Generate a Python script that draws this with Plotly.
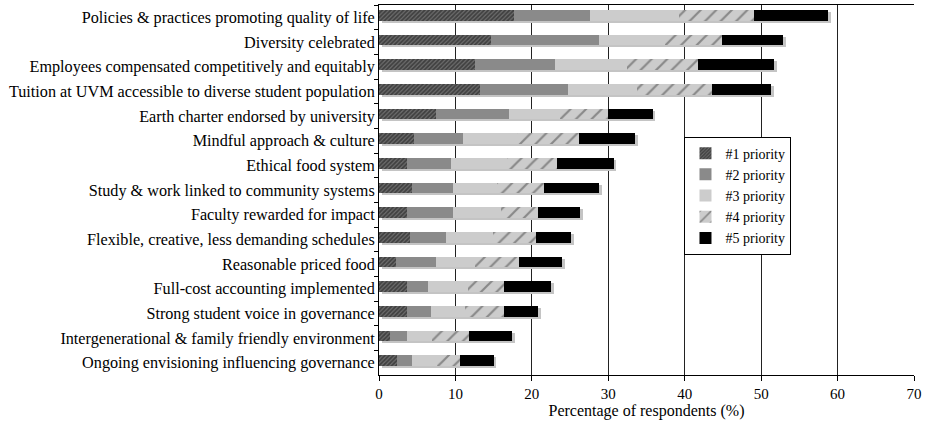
import plotly.graph_objects as go

categories = [
    "Policies & practices promoting quality of life",
    "Diversity celebrated",
    "Employees compensated competitively and equitably",
    "Tuition at UVM accessible to diverse student population",
    "Earth charter endorsed by university",
    "Mindful approach & culture",
    "Ethical food system",
    "Study & work linked to community systems",
    "Faculty rewarded for impact",
    "Flexible, creative, less demanding schedules",
    "Reasonable priced food",
    "Full-cost accounting implemented",
    "Strong student voice in governance",
    "Intergenerational & family friendly environment",
    "Ongoing envisioning influencing governance",
]

p1 = [17.7, 14.7, 12.6, 13.2, 7.5, 4.6, 3.6, 4.3, 3.7, 4.0, 2.2, 3.7, 3.7, 1.5, 2.3]
p2 = [9.9, 14.1, 10.4, 11.5, 9.5, 6.4, 5.8, 5.4, 6.0, 4.8, 5.3, 2.7, 3.1, 2.2, 2.0]
p3 = [11.7, 8.6, 9.4, 9.1, 6.7, 7.1, 7.3, 5.7, 6.3, 6.1, 5.0, 5.2, 4.5, 3.2, 3.3]
p4 = [9.8, 7.5, 9.3, 9.8, 6.3, 8.1, 6.6, 6.2, 4.8, 5.7, 5.8, 4.7, 5.1, 4.9, 3.0]
p5 = [9.7, 8.0, 10.0, 7.7, 5.8, 7.3, 7.4, 7.2, 5.5, 4.5, 5.7, 6.2, 4.4, 5.6, 4.4]
series_names = ["#1 priority", "#2 priority", "#3 priority", "#4 priority", "#5 priority"]
x_ticks = [0, 10, 20, 30, 40, 50, 60, 70]

totals = [a + b + c + d + e for a, b, c, d, e in zip(p1, p2, p3, p4, p5)]

FONT = "Liberation Serif"
fig = go.Figure()

# drop shadow (on base axis, drawn beneath)
fig.add_trace(go.Bar(
    y=categories, x=totals, base=0.35, orientation="h",
    marker=dict(color="#c4c4c4", line=dict(width=0)),
    showlegend=False, hoverinfo="skip", xaxis="x", yaxis="y",
))

styles = [
    dict(color="#555555", pattern=dict(shape="/", fgcolor="#111111", bgcolor="#6e6e6e", size=3, solidity=0.6)),
    dict(color="#8a8a8a"),
    dict(color="#cccccc"),
    dict(color="#cccccc", pattern=dict(shape="/", fgcolor="#444444", bgcolor="#cccccc", size=11, solidity=0.2)),
    dict(color="#000000"),
]
for name, vals, st in zip(series_names, [p1, p2, p3, p4, p5], styles):
    m = dict(st)
    m["line"] = dict(width=0)
    fig.add_trace(go.Bar(
        y=categories, x=vals, name=name, orientation="h",
        marker=m, xaxis="x", yaxis="y2",
    ))

shift = 0.08
fig.update_layout(
    width=926, height=421,
    margin=dict(l=379, r=12, t=5, b=46),
    paper_bgcolor="white", plot_bgcolor="white",
    barmode="stack", bargap=0.57,
    font=dict(family=FONT, size=15, color="black"),
    xaxis=dict(
        range=[0, 70], tickvals=x_ticks, showgrid=True, gridcolor="#222222", gridwidth=1,
        showline=True, linecolor="black", linewidth=1, mirror=True,
        ticks="outside", ticklen=5, tickcolor="black", zeroline=False,
        title=dict(text="Percentage of respondents (%)",
                   font=dict(family=FONT, size=16, color="black"), standoff=0),
        tickfont=dict(family=FONT, size=15, color="black"), automargin=False,
    ),
    yaxis=dict(
        categoryorder="array", categoryarray=categories,
        range=[len(categories) - 0.5, -0.5],
        showline=True, linecolor="black", linewidth=1,
        ticks="outside", ticklen=4, tickson="boundaries", tickcolor="black",
        tickfont=dict(family=FONT, size=16.2, color="black"),
        showgrid=False, zeroline=False, automargin=False,
    ),
    yaxis2=dict(
        overlaying="y", categoryorder="array", categoryarray=categories,
        range=[len(categories) - 0.5 + shift, -0.5 + shift],
        showticklabels=False, showgrid=False, zeroline=False, showline=False,
    ),
    legend=dict(
        x=0.571, y=0.485, xanchor="left", yanchor="middle",
        bordercolor="black", borderwidth=1, bgcolor="white",
        font=dict(family=FONT, size=14, color="black"), tracegroupgap=0, itemwidth=30,
        traceorder="normal",
    ),
)

fig.write_html("out.html", config={"displayModeBar": False},
               post_script="document.body.style.margin='0px';")
